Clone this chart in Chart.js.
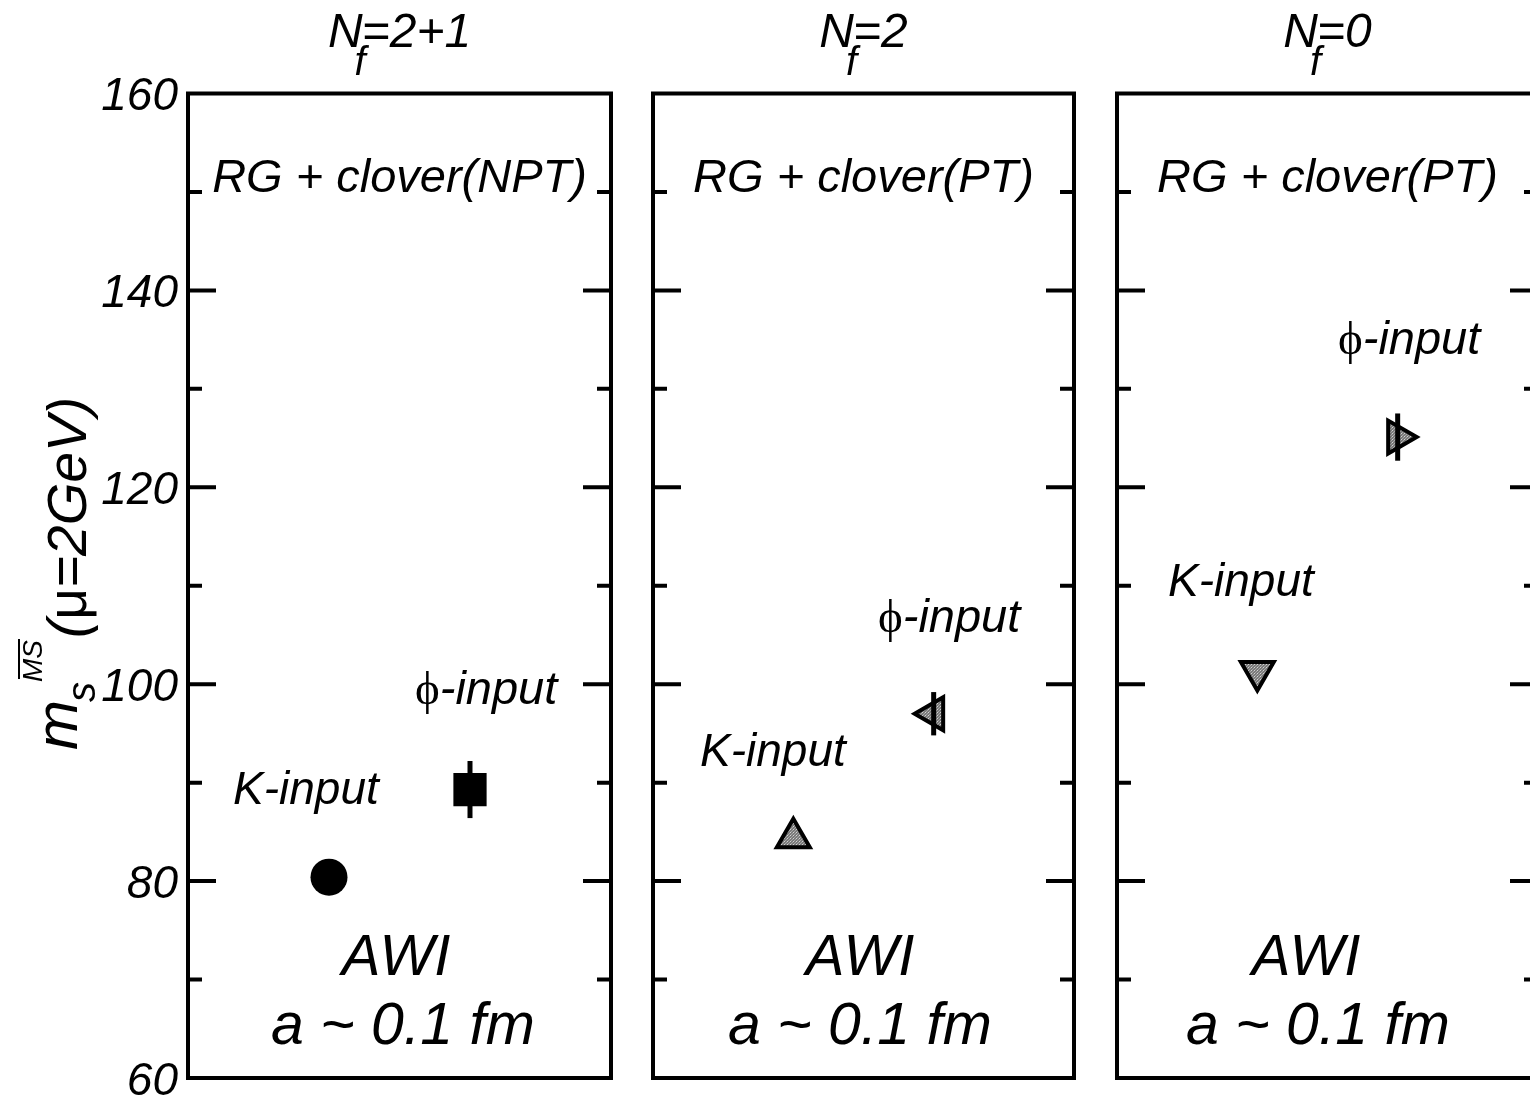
<!DOCTYPE html>
<html>
<head>
<meta charset="utf-8">
<script src="https://cdn.jsdelivr.net/npm/chart.js@4.4.1/dist/chart.umd.min.js"></script>
<style>
  html, body { margin: 0; padding: 0; background: #fff; overflow: hidden; width: 1530px; height: 1096px; }
  canvas { position: absolute; top: 0; }
</style>
</head>
<body>
<canvas id="p1" width="640" height="1096" style="left:0px"></canvas>
<canvas id="p2" width="461" height="1096" style="left:633px"></canvas>
<canvas id="p3" width="461" height="1096" style="left:1097px"></canvas>
<script>
// x position of the two inputs inside each panel (axis runs 0..3)
const inputs = ['K-input', 'ϕ-input'];
const xPos = [1, 2];

// strange quark mass m_s (MSbar, mu = 2 GeV), MeV
const msNf21 = [80.4, 89.3];
const errNf21 = [null, 2.9];
const msNf2 = [84.4, 97.0];
const errNf2 = [null, 2.2];
const msNf0 = [101.3, 125.1];
const errNf0 = [null, 2.4];

const yTickVals = [60, 70, 80, 90, 100, 110, 120, 130, 140, 150, 160];
const yTickLabels = ['60', '', '80', '', '100', '', '120', '', '140', '', '160'];

const SANS = '"Liberation Sans", Arial, sans-serif';
const SERIF = '"Liberation Serif", serif';
const it = s => 'italic ' + s + 'px ' + SANS;

function halftone() {
  const c = document.createElement('canvas');
  c.width = 3; c.height = 3;
  const g = c.getContext('2d');
  g.fillStyle = '#7a7a7a'; g.fillRect(0, 0, 3, 3);
  g.fillStyle = '#d2d2d2'; g.fillRect(1, 1, 1, 1);
  g.fillStyle = '#a8a8a8'; g.fillRect(0, 2, 1, 1); g.fillRect(2, 0, 1, 1);
  return g.createPattern(c, 'repeat');
}
const grey = halftone();

// draw a sequence of text pieces one after the other
function drawRuns(ctx, parts, x, y, align) {
  let w = 0;
  parts.forEach(p => { ctx.font = p.font; w += ctx.measureText(p.t).width + (p.dx || 0); });
  let cx = align === 'center' ? x - w / 2 : x;
  parts.forEach(p => {
    ctx.font = p.font;
    cx += p.dx || 0;
    const tw = ctx.measureText(p.t).width;
    ctx.fillText(p.t, cx, y + (p.dy || 0));
    if (p.over) {
      ctx.fillRect(cx + 3, y + (p.dy || 0) - p.over, tw - 2, 2);
    }
    cx += tw;
  });
}

const phiRuns = [{ t: 'ϕ', font: '47px ' + SERIF }, { t: '-input', font: it(47) }];
const kRuns = [{ t: 'K-input', font: it(46) }];

const panelPlugin = {
  id: 'panel',
  afterDatasetsDraw(chart, args, opts) {
    const { ctx, chartArea: a, scales: { x, y } } = chart;
    ctx.save();
    ctx.fillStyle = '#000';
    ctx.strokeStyle = '#000';

    // error bars
    ctx.lineWidth = 5;
    opts.values.forEach((v, i) => {
      const e = opts.errors[i];
      if (!e) return;
      const px = x.getPixelForValue(xPos[i]);
      ctx.beginPath();
      ctx.moveTo(px, y.getPixelForValue(v + e));
      ctx.lineTo(px, y.getPixelForValue(v - e));
      ctx.stroke();
    });

    // frame with inward ticks
    ctx.lineWidth = 4;
    ctx.strokeRect(a.left, a.top, a.width, a.height);
    yTickVals.forEach(v => {
      if (v === 60 || v === 160) return;
      const py = y.getPixelForValue(v);
      const len = v % 20 === 0 ? 28 : 14;
      ctx.beginPath();
      ctx.moveTo(a.left, py); ctx.lineTo(a.left + len, py);
      ctx.moveTo(a.right - len, py); ctx.lineTo(a.right, py);
      ctx.stroke();
    });

    // texts
    ctx.textBaseline = 'alphabetic';
    drawRuns(ctx, [
      { t: 'N', font: it(48) },
      { t: 'f', font: it(40), dy: 28, dx: -8 },
      { t: opts.nf, font: it(48), dx: -4 }
    ], (a.left + a.right) / 2, 47, 'center');
    drawRuns(ctx, [{ t: opts.action, font: it(47) }], (a.left + a.right) / 2, a.top + 98, 'center');
    drawRuns(ctx, phiRuns, a.left + opts.phi[0], a.top + opts.phi[1], 'left');
    drawRuns(ctx, kRuns, a.left + opts.k[0], a.top + opts.k[1], 'left');
    drawRuns(ctx, [{ t: 'AWI', font: it(58) }], a.left + opts.awi, a.top + 881, 'center');
    drawRuns(ctx, [{ t: 'a ~ 0.1 fm', font: it(59) }], a.left + opts.fm, a.top + 950, 'center');

    // vertical axis title (first panel only)
    if (opts.yTitle) {
      ctx.translate(86, 750);
      ctx.rotate(-Math.PI / 2);
      drawRuns(ctx, [
        { t: 'm', font: it(60), dy: -9 },
        { t: 's', font: it(40), dy: 9, dx: -2 },
        { t: 'MS', font: it(28), dy: -44, dx: 0, over: 24 },
        { t: '(', font: it(55), dx: 2 },
        { t: 'μ', font: '55px ' + SANS },
        { t: '=2GeV)', font: it(55) }
      ], 0, 0, 'left');
    }
    ctx.restore();
  }
};

function makePanel(id, values, errors, opts, first) {
  const yScale = {
    type: 'linear', min: 60, max: 160,
    display: first,
    grid: { display: false, drawTicks: false },
    border: { display: false },
    ticks: {
      stepSize: 10,
      autoSkip: false,
      padding: 10,
      color: '#000',
      font: { family: SANS, size: 46, style: 'italic', lineHeight: 0.17 },
      // empty first line nudges the number a few pixels down
      callback: v => {
        const s = yTickLabels[yTickVals.indexOf(v)];
        return s ? ['', s] : '';
      }
    }
  };
  if (first) yScale.afterFit = s => { s.width = 188; };

  new Chart(document.getElementById(id), {
    type: 'scatter',
    data: {
      datasets: inputs.map((name, i) => ({
        label: name,
        data: [{ x: xPos[i], y: values[i] }],
        pointStyle: opts.shapes[i],
        rotation: opts.rot[i],
        pointRadius: opts.radius[i],
        backgroundColor: opts.fill[i],
        borderColor: '#000',
        borderWidth: opts.bw[i]
      }))
    },
    options: {
      responsive: false,
      animation: false,
      layout: {
        autoPadding: false,
        padding: { left: first ? 0 : 20, right: first ? 29 : 20, top: 93.5, bottom: 18 }
      },
      scales: {
        x: { type: 'linear', min: 0, max: 3, display: false },
        y: yScale
      },
      plugins: {
        legend: { display: false },
        tooltip: { enabled: false },
        panel: Object.assign({ values, errors, yTitle: first }, opts)
      }
    },
    plugins: [panelPlugin]
  });
}

makePanel('p1', msNf21, errNf21, {
  nf: '=2+1', action: 'RG + clover(NPT)',
  phi: [227, 610], k: [45, 710], awi: 208, fm: 215,
  shapes: ['circle', 'rect'], rot: [0, 0], radius: [18.5, 23.5], bw: [0, 0], fill: ['#000', '#000']
}, true);

makePanel('p2', msNf2, errNf2, {
  nf: '=2', action: 'RG + clover(PT)',
  phi: [225, 538], k: [47, 672], awi: 207, fm: 207,
  shapes: ['triangle', 'triangle'], rot: [0, 270], radius: [19, 19], bw: [4, 4], fill: [grey, grey]
}, false);

makePanel('p3', msNf0, errNf0, {
  nf: '=0', action: 'RG + clover(PT)',
  phi: [221, 260], k: [51, 502], awi: 189, fm: 201,
  shapes: ['triangle', 'triangle'], rot: [180, 90], radius: [19, 19], bw: [4, 4], fill: [grey, grey]
}, false);
</script>
</body>
</html>
